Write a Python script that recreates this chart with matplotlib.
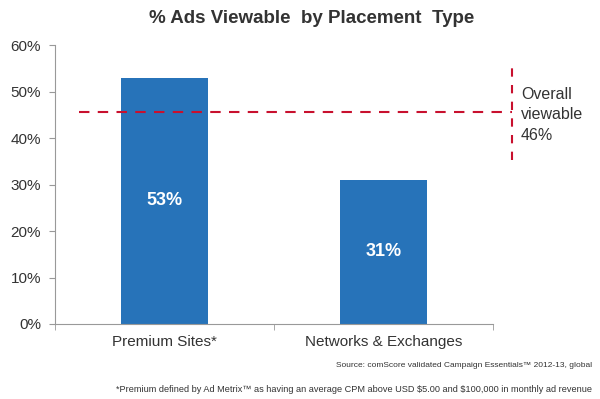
import matplotlib.pyplot as plt
from matplotlib.ticker import FixedLocator

plt.rcParams['font.family'] = ['Liberation Sans', 'DejaVu Sans']

# data
categories = ['Premium Sites*', 'Networks & Exchanges']
viewable = [53, 31]
overall = 46
yticks = [0, 10, 20, 30, 40, 50, 60]

bar_color = '#2773b9'
text_color = '#333333'
axis_color = '#999999'
red = '#c8102e'

fig = plt.figure(figsize=(6.0, 3.99), dpi=100)
ax = fig.add_axes([0.0917, 0.188, 0.73, 0.699])

x = list(range(len(categories)))
ax.bar(x, viewable, width=0.4, color=bar_color, zorder=2)
for xi, v in zip(x, viewable):
    ax.text(xi, v / 2, f'{v}%', ha='center', va='center', color='white',
            fontsize=13, fontweight='bold', zorder=3)

ax.set_xlim(-0.5, 1.5)
ax.set_ylim(0, 60)
ax.set_yticks(yticks)
ax.set_yticklabels([f'{t}%' for t in yticks])
ax.set_xticks(x)
ax.set_xticklabels(categories)
ax.xaxis.set_minor_locator(FixedLocator([-0.5, 0.5, 1.5]))
ax.tick_params(axis='x', which='major', length=0, pad=8, labelsize=11, labelcolor=text_color)
ax.tick_params(axis='x', which='minor', length=4, color=axis_color)
ax.tick_params(axis='y', length=4, color=axis_color, labelsize=11, labelcolor=text_color, pad=6)

for s in ['top', 'right']:
    ax.spines[s].set_visible(False)
for s in ['left', 'bottom']:
    ax.spines[s].set_color(axis_color)

# overall viewable line
ax.plot([-0.39, 1.587], [overall - 0.5, overall - 0.5], color=red, lw=1.5,
        ls=(0, (5, 4)), clip_on=False, zorder=4)
ax.plot([1.587, 1.587], [35.3, 55.3], color=red, lw=1.5,
        ls=(0, (4, 4)), clip_on=False, zorder=4)
fig.text(0.868, 0.712, 'Overall\nviewable\n46%', ha='left', va='center',
         fontsize=11.5, color=text_color, linespacing=1.45)

fig.text(0.52, 0.953, '% Ads Viewable  by Placement  Type', ha='center', va='center',
         fontsize=13.5, fontweight='bold', color=text_color)

fig.text(0.987, 0.083, 'Source: comScore validated Campaign Essentials\u2122 2012-13, global',
         ha='right', va='center', fontsize=6, color=text_color)
fig.text(0.987, 0.025, r'*Premium defined by Ad Metrix\u2122 as having an average CPM above USD \$5.00 and \$100,000 in monthly ad revenue'.replace(r'\u2122', '\u2122'),
         ha='right', va='center', fontsize=6.6, color=text_color)

fig.savefig('out.png', dpi=100)
